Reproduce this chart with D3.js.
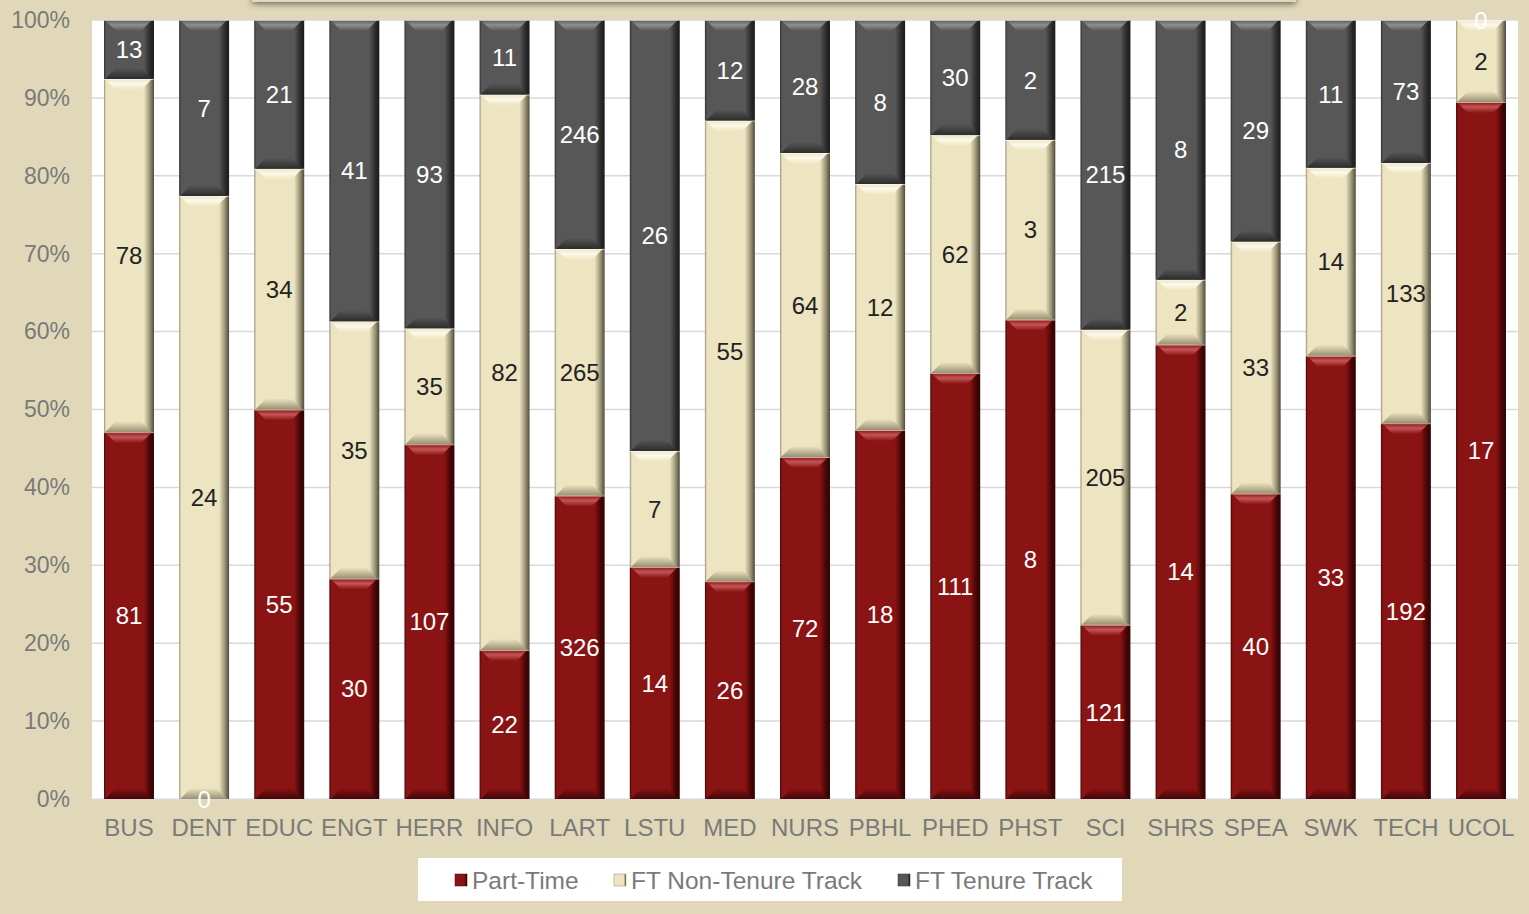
<!DOCTYPE html>
<html>
<head>
<meta charset="utf-8">
<script src="https://cdn.jsdelivr.net/npm/d3@7"></script>
<style>
  body { margin: 0; background: #e0d8b8; }
  svg { display: block; font-family: "Liberation Sans", Arial, sans-serif; }
</style>
</head>
<body>
<div id="chart"></div>
<script>
const width = 1529;
const height = 914;

// data
const categories = ["BUS","DENT","EDUC","ENGT","HERR","INFO","LART","LSTU","MED","NURS","PBHL","PHED","PHST","SCI","SHRS","SPEA","SWK","TECH","UCOL"];
const partTime    = [81, 0, 55, 30, 107, 22, 326, 14, 26, 72, 18, 111, 8, 121, 14, 40, 33, 192, 17];
const ftNonTenure = [78, 24, 34, 35, 35, 82, 265, 7, 55, 64, 12, 62, 3, 205, 2, 33, 14, 133, 2];
const ftTenure    = [13, 7, 21, 41, 93, 11, 246, 26, 12, 28, 8, 30, 2, 215, 8, 29, 11, 73, 0];
const seriesNames = ["Part-Time", "FT Non-Tenure Track", "FT Tenure Track"];
const yTicks = [0, 0.1, 0.2, 0.3, 0.4, 0.5, 0.6, 0.7, 0.8, 0.9, 1];

const colors = [
  {main: "#8a1313", light: "#c45555", dark: "#450606", edge: "#300404", text: "#ffffff"},
  {main: "#ede4c1", light: "#fdf9ea", dark: "#979072", edge: "#4f4b3c", text: "#222222"},
  {main: "#575757", light: "#8f8f8f", dark: "#2c2c2c", edge: "#1a1a1a", text: "#ffffff"}
];

const rows = categories.map((c, i) => ({cat: c, v: [partTime[i], ftNonTenure[i], ftTenure[i]]}));

const plot = {left: 92, right: 1518, top: 20, bottom: 799};

const svg = d3.select("#chart").append("svg")
  .attr("width", width).attr("height", height);

const defs = svg.append("defs");
colors.forEach((c, i) => {
  const g = defs.append("linearGradient").attr("id", "grad" + i)
    .attr("x1", "0").attr("x2", "1").attr("y1", "0").attr("y2", "0");
  g.append("stop").attr("offset", "0").attr("stop-color", c.dark);
  g.append("stop").attr("offset", "0.04").attr("stop-color", c.main);
  g.append("stop").attr("offset", "0.8").attr("stop-color", c.main);
  g.append("stop").attr("offset", "0.92").attr("stop-color", c.dark);
  g.append("stop").attr("offset", "1").attr("stop-color", c.edge);
  const t = defs.append("linearGradient").attr("id", "top" + i)
    .attr("x1", "0").attr("x2", "0").attr("y1", "0").attr("y2", "1");
  t.append("stop").attr("offset", "0").attr("stop-color", c.main);
  t.append("stop").attr("offset", "0.45").attr("stop-color", c.light);
  t.append("stop").attr("offset", "1").attr("stop-color", c.main);
  const b = defs.append("linearGradient").attr("id", "bot" + i)
    .attr("x1", "0").attr("x2", "0").attr("y1", "0").attr("y2", "1");
  b.append("stop").attr("offset", "0").attr("stop-color", c.main);
  b.append("stop").attr("offset", "1").attr("stop-color", c.dark);
});
const shadow = defs.append("filter").attr("id", "shadow")
  .attr("x", "-10%").attr("y", "-50%").attr("width", "120%").attr("height", "300%");
shadow.append("feDropShadow").attr("dx", 0).attr("dy", 2).attr("stdDeviation", 3)
  .attr("flood-color", "#000").attr("flood-opacity", 0.5);

// clipped title box at top
svg.append("rect")
  .attr("x", 252).attr("y", -40).attr("width", 1044).attr("height", 42)
  .attr("fill", "#e0d8b8").attr("filter", "url(#shadow)");

svg.append("rect")
  .attr("x", plot.left).attr("y", plot.top)
  .attr("width", plot.right - plot.left).attr("height", plot.bottom - plot.top)
  .attr("fill", "#ffffff");

const x = d3.scaleBand().domain(categories)
  .range([plot.left, plot.right]).paddingInner(0.335).paddingOuter(0.16);
const y = d3.scaleLinear().domain([0, 1]).range([plot.bottom, plot.top]);

// gridlines
svg.append("g").selectAll("line").data(yTicks.slice(1)).enter().append("line")
  .attr("x1", plot.left).attr("x2", plot.right)
  .attr("y1", d => y(d)).attr("y2", d => y(d))
  .attr("stroke", "#d9d9d9").attr("stroke-width", 1.5);

// y axis
const yAxis = d3.axisLeft(y).tickValues(yTicks).tickFormat(d3.format(".0%")).tickSize(0).tickPadding(22);
svg.append("g").attr("transform", `translate(${plot.left},0)`).call(yAxis)
  .call(g => g.select(".domain").remove())
  .selectAll("text").attr("font-size", 23).attr("fill", "#7a7a7a")
  .attr("font-family", "Liberation Sans, Arial, sans-serif");

// x axis
const xAxis = d3.axisBottom(x).tickSize(0).tickPadding(20);
svg.append("g").attr("transform", `translate(0,${plot.bottom})`).call(xAxis)
  .call(g => g.select(".domain").attr("stroke", "#d9d9d9").attr("stroke-width", 2))
  .selectAll("text").attr("font-size", 24).attr("fill", "#7a7a7a")
  .attr("font-family", "Liberation Sans, Arial, sans-serif");

// stacked segments
const segs = [];
rows.forEach(r => {
  const total = d3.sum(r.v);
  let acc = 0;
  r.v.forEach((v, s) => {
    const y0 = acc / total;
    acc += v;
    segs.push({cat: r.cat, s: s, v: v, y0: y0, y1: acc / total});
  });
});

const bw = x.bandwidth();
const barG = svg.append("g");
segs.filter(d => d.v > 0).forEach(d => {
  const x0 = x(d.cat);
  const top = y(d.y1), bot = y(d.y0);
  const h = bot - top;
  const b = Math.min(11, h / 2);
  const g = barG.append("g");
  g.append("rect").attr("x", x0).attr("y", top).attr("width", bw).attr("height", h)
    .attr("fill", `url(#grad${d.s})`);
  g.append("polygon")
    .attr("points", [[x0 + 1, top], [x0 + bw - 2, top], [x0 + bw - b - 2, top + b], [x0 + b + 1, top + b]].join(" "))
    .attr("fill", `url(#top${d.s})`);
  g.append("polygon")
    .attr("points", [[x0 + 1, bot], [x0 + bw - 2, bot], [x0 + bw - b - 2, bot - b], [x0 + b + 1, bot - b]].join(" "))
    .attr("fill", `url(#bot${d.s})`);
  g.append("line").attr("x1", x0).attr("x2", x0 + bw).attr("y1", top + 0.5).attr("y2", top + 0.5)
    .attr("stroke", "#ffffff").attr("stroke-opacity", 0.6).attr("stroke-width", 1);
});

// value labels
svg.append("g").selectAll("text").data(segs).enter().append("text")
  .attr("x", d => x(d.cat) + bw / 2)
  .attr("y", d => (y(d.y0) + y(d.y1)) / 2)
  .attr("dy", "0.36em")
  .attr("text-anchor", "middle")
  .attr("font-size", 24)
  .attr("fill", d => d.v === 0 ? "#ffffff" : colors[d.s].text)
  .text(d => d.v);

// legend
const legend = svg.append("g");
legend.append("rect").attr("x", 418).attr("y", 858).attr("width", 704).attr("height", 43).attr("fill", "#ffffff");
const legendX = [455, 614, 898];
seriesNames.forEach((n, i) => {
  const c = colors[i];
  legend.append("rect").attr("x", legendX[i]).attr("y", 874).attr("width", 12).attr("height", 12)
    .attr("fill", `url(#grad${i})`).attr("stroke", c.dark).attr("stroke-width", 0.5);
  legend.append("text").attr("x", legendX[i] + 17).attr("y", 880).attr("dy", "0.36em")
    .attr("font-size", 24.5).attr("fill", "#7a7a7a").text(n);
});
</script>
</body>
</html>
